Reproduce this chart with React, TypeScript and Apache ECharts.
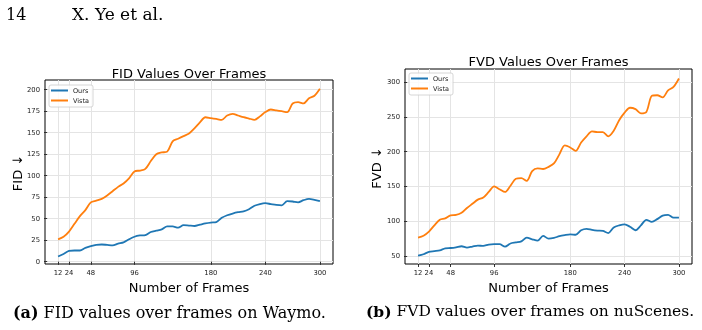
import React, { useEffect, useRef } from "react";
import * as echarts from "echarts";

const frames = [12, 18, 24, 30, 36, 42, 48, 54, 60, 66, 72, 78, 84, 90, 96, 102, 108, 114, 120, 126, 132, 138, 144, 150, 156, 162, 168, 174, 180, 186, 192, 198, 204, 210, 216, 222, 228, 234, 240, 246, 252, 258, 264, 270, 276, 282, 288, 294, 300];

const fidOurs = [6, 9, 12.5, 13, 13, 16, 18, 19.5, 20, 19.5, 19, 21, 22.5, 26, 29, 30.5, 31, 34.5, 36, 37.5, 41, 41, 39.5, 42.5, 42, 41.5, 43, 44.5, 45.5, 46, 51, 54, 56, 57.5, 58.5, 61, 65, 67, 68, 67, 66, 65.5, 70.5, 70, 69, 71.5, 73, 72, 70.5];
const fidVista = [26, 29, 35, 44, 53, 60, 69, 71, 73, 77, 82, 87, 91, 97, 105, 106, 108, 117, 125, 127, 128, 140, 143, 146, 149, 155, 162, 168, 167, 166, 165, 170, 172, 170, 168, 166.5, 165, 169, 174, 177, 176, 175, 174, 184, 185.5, 184, 190, 193, 201];
const fvdOurs = [50.5, 52.5, 56, 57, 58, 61, 61.5, 62.5, 64, 62, 63.5, 65, 64.5, 66.5, 67, 67, 63.5, 68, 69.5, 71, 76.5, 74, 72, 79, 75, 76, 78.5, 80, 81, 80.5, 87, 89, 87.5, 86.5, 86, 83, 91, 94, 95.5, 92, 87, 94, 102, 99, 103, 108, 109, 105, 105];
const fvdVista = [76.5, 79, 85, 94, 102, 104, 108.5, 109, 112, 119, 125, 131, 134, 142, 150, 146, 142, 151, 161, 162, 158, 172, 176, 175, 178, 183, 196, 209, 206, 201, 213, 222, 229, 228, 228, 222, 230, 245, 256, 263, 261, 255, 257, 280, 281, 278, 288, 293, 305];

const xTicks = [12, 24, 48, 96, 180, 240, 300];
const fidTicks = [0, 25, 50, 75, 100, 125, 150, 175, 200];
const fvdTicks = [50, 100, 150, 200, 250, 300];
const seriesNames = ["Ours", "Vista"];
const colors = ["#1f77b4", "#ff7f0e"];

const SANS = "DejaVu Sans";
const SERIF = "DejaVu Serif";

export default function App() {
  const ref = useRef<HTMLDivElement>(null);
  useEffect(() => {
    const chart = echarts.init(ref.current!, null, { renderer: "svg" });
    const pair = (ys: number[]) => frames.map((f, i) => [f, ys[i]]);

    const xAxis = (gridIndex: number) => ({
      type: "value",
      gridIndex,
      min: -2.4,
      max: 314.4,
      name: "Number of Frames",
      nameLocation: "middle",
      nameGap: 14,
      nameTextStyle: { fontFamily: SANS, fontSize: 13, color: "#000", verticalAlign: "top" },
      axisLine: { show: false },
      axisTick: { show: true, customValues: xTicks, length: 3, lineStyle: { color: "#000", width: 0.8 } },
      axisLabel: { customValues: xTicks, fontFamily: SANS, fontSize: 6.8, color: "#222", margin: 5 },
      splitLine: { show: true, lineStyle: { color: "#e4e4e4", width: 1 } },
    });
    const yAxis = (gridIndex: number, min: number, max: number, ticks: number[]) => ({
      type: "value",
      gridIndex,
      min,
      max,
      axisLine: { show: false },
      axisTick: { show: true, customValues: ticks, length: 3, lineStyle: { color: "#000", width: 0.8 } },
      axisLabel: { customValues: ticks, fontFamily: SANS, fontSize: 6.8, color: "#222", margin: 5 },
      splitLine: { show: true, lineStyle: { color: "#e4e4e4", width: 1 } },
    });
    const legend = (left: number, top: number) => ({
      left,
      top,
      orient: "vertical",
      data: seriesNames,
      icon: "rect",
      itemWidth: 17,
      itemHeight: 2,
      itemGap: 3,
      padding: [2, 4, 3, 2],
      borderColor: "#cccccc",
      borderWidth: 0.8,
      borderRadius: 2,
      backgroundColor: "rgba(255,255,255,0.85)",
      textStyle: { fontFamily: SANS, fontSize: 6.5, color: "#222" },
    });
    const line = (name: string, color: string, data: number[][], idx: number) => ({
      type: "line",
      name,
      data,
      xAxisIndex: idx,
      yAxisIndex: idx,
      showSymbol: false,
      smooth: 0.3,
      lineStyle: { color, width: 1.8 },
      itemStyle: { color },
      z: 3,
    });

    chart.setOption({
      animation: false,
      textStyle: { fontFamily: SANS },
      grid: [
        { left: 45, top: 80, width: 288, height: 184, show: true, borderColor: "#000", borderWidth: 1, backgroundColor: "transparent" },
        { left: 405, top: 69, width: 287, height: 195, show: true, borderColor: "#000", borderWidth: 1, backgroundColor: "transparent" },
      ],
      xAxis: [xAxis(0), xAxis(1)],
      yAxis: [
        yAxis(0, -2.7, 211.3, fidTicks),
        yAxis(1, 38.5, 318.7, fvdTicks),
      ],
      legend: [legend(49, 85), legend(409, 73)],
      series: [
        line(seriesNames[0], colors[0], pair(fidOurs), 0),
        line(seriesNames[1], colors[1], pair(fidVista), 0),
        line(seriesNames[0], colors[0], pair(fvdOurs), 1),
        line(seriesNames[1], colors[1], pair(fvdVista), 1),
      ],
      graphic: [
        { type: "text", x: 189, y: 73, style: { text: "FID Values Over Frames", fontFamily: SANS, fontSize: 13, fill: "#000", textAlign: "center", textVerticalAlign: "middle" } },
        { type: "text", x: 548.5, y: 61, style: { text: "FVD Values Over Frames", fontFamily: SANS, fontSize: 13, fill: "#000", textAlign: "center", textVerticalAlign: "middle" } },
        { type: "text", x: 17, y: 173, rotation: Math.PI / 2, style: { text: "FID ↓", fontFamily: SANS, fontSize: 13, fill: "#000", textAlign: "center", textVerticalAlign: "middle" } },
        { type: "text", x: 376, y: 168, rotation: Math.PI / 2, style: { text: "FVD ↓", fontFamily: SANS, fontSize: 13, fill: "#000", textAlign: "center", textVerticalAlign: "middle" } },
        { type: "text", x: 6, y: 14, style: { text: "14", fontFamily: SERIF, fontSize: 16, fill: "#000", textAlign: "left", textVerticalAlign: "middle" } },
        { type: "text", x: 72, y: 14, style: { text: "X. Ye et al.", fontFamily: SERIF, fontSize: 17, fill: "#000", textAlign: "left", textVerticalAlign: "middle" } },
        {
          type: "text", x: 13, y: 312,
          style: {
            text: "{b|(a)} FID values over frames on Waymo.",
            fontFamily: SERIF, fontSize: 16, fill: "#000", textAlign: "left", textVerticalAlign: "middle",
            rich: { b: { fontFamily: SERIF, fontSize: 16, fontWeight: "bold", fill: "#000" } },
          },
        },
        {
          type: "text", x: 366, y: 311,
          style: {
            text: "{b|(b)} FVD values over frames on nuScenes.",
            fontFamily: SERIF, fontSize: 15.5, fill: "#000", textAlign: "left", textVerticalAlign: "middle",
            rich: { b: { fontFamily: SERIF, fontSize: 15.5, fontWeight: "bold", fill: "#000" } },
          },
        },
      ],
    });
    return () => chart.dispose();
  }, []);
  return <div ref={ref} style={{ position: "fixed", left: 0, top: 0, width: 702, height: 330 }} />;
}
